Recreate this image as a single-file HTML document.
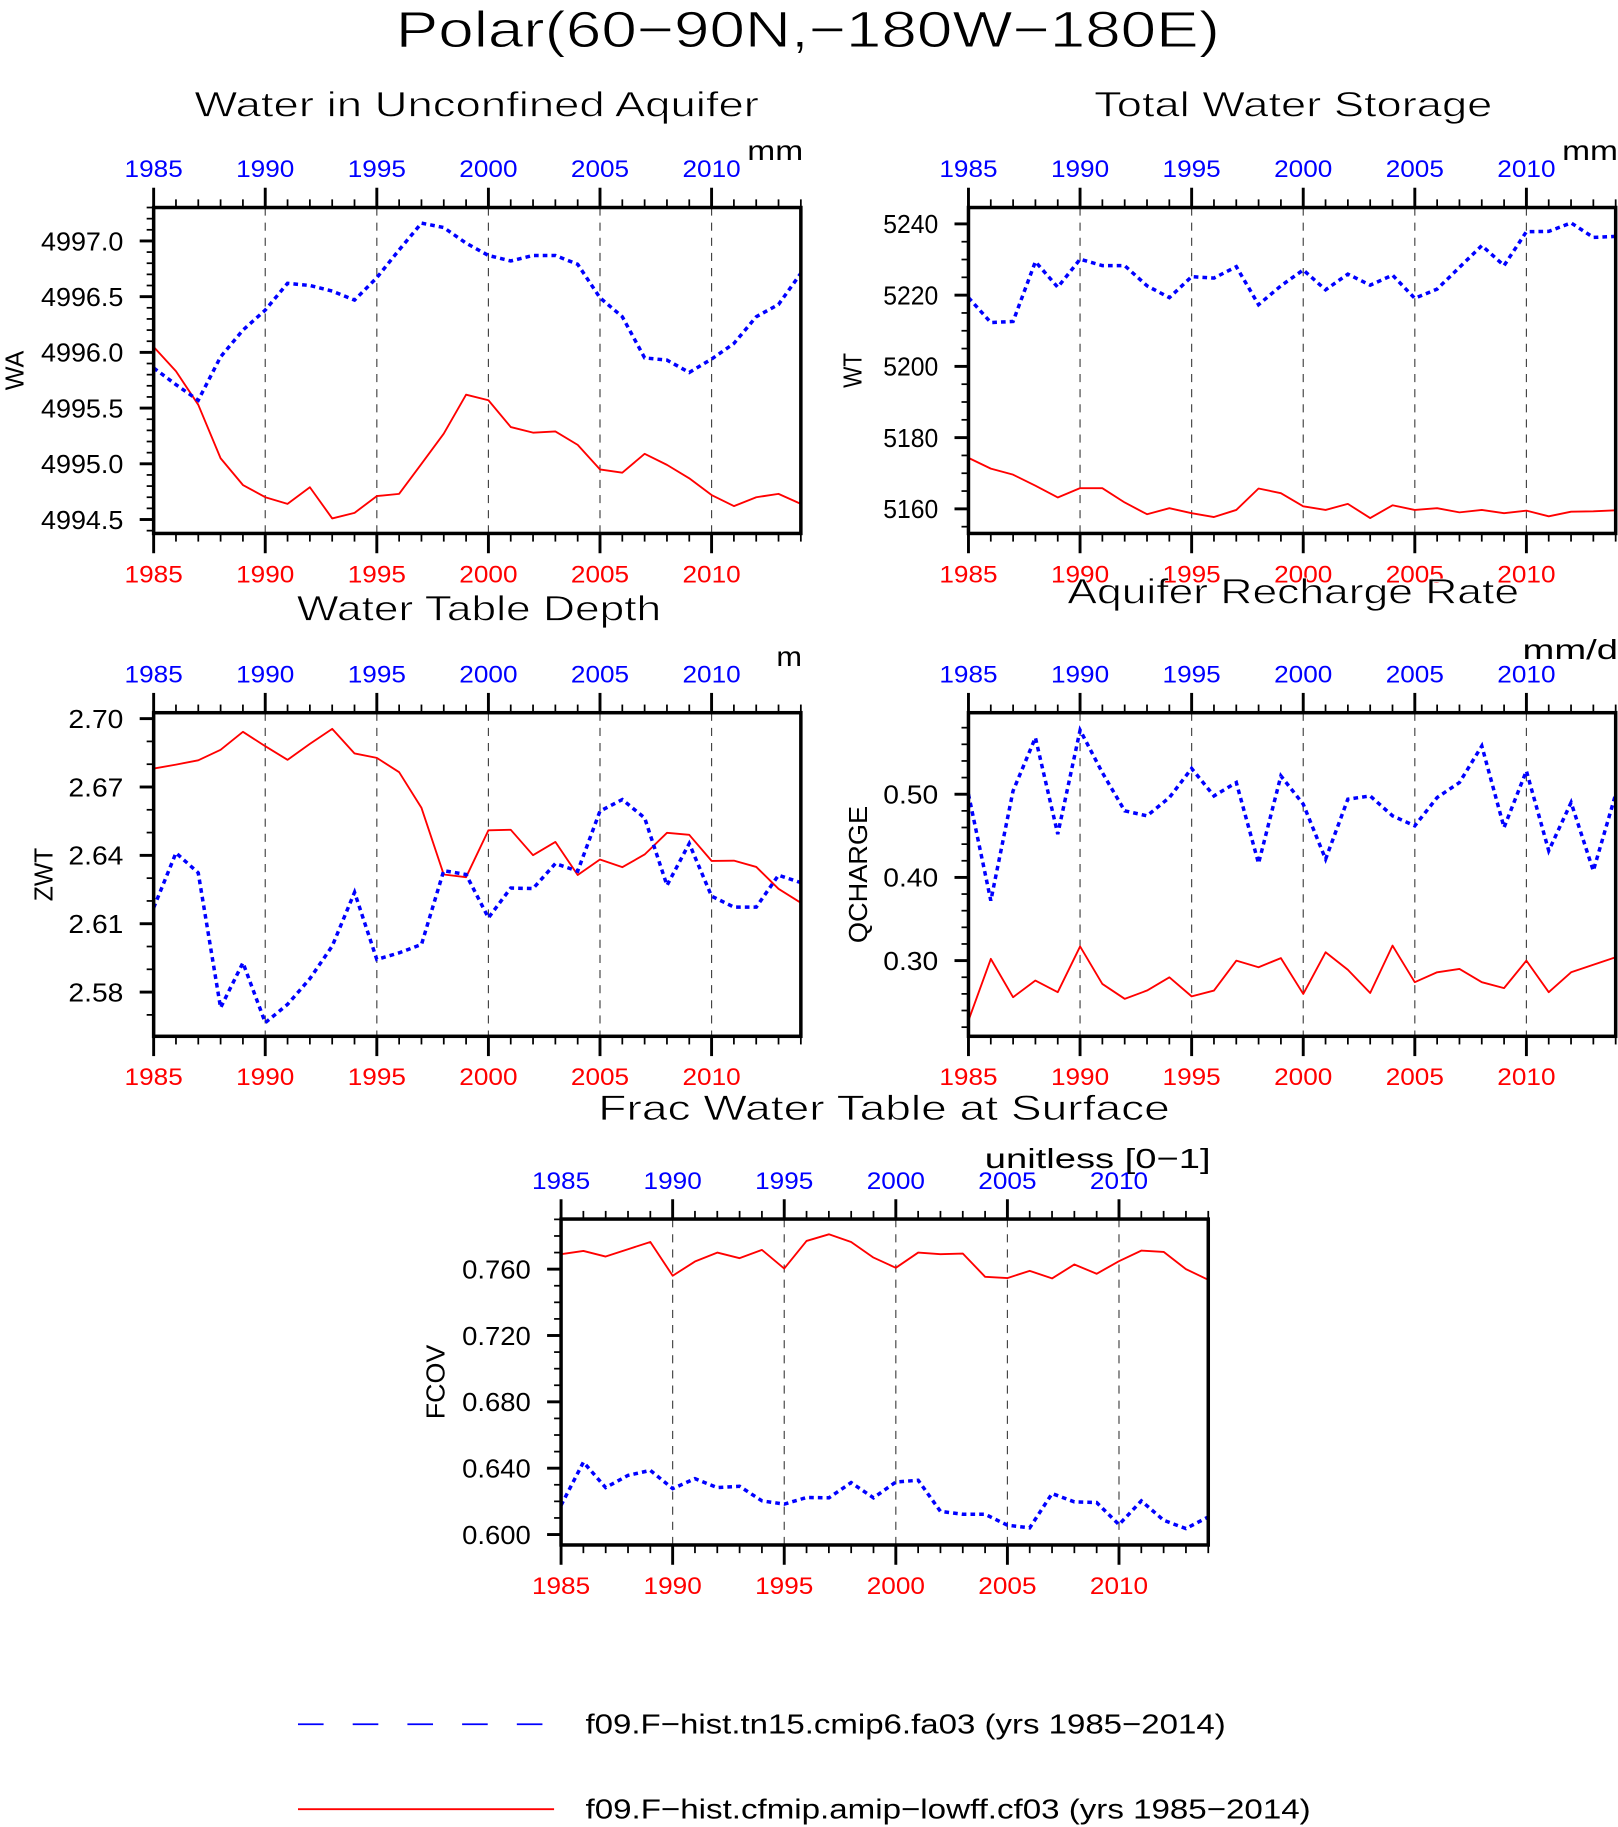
<!DOCTYPE html>
<html><head><meta charset="utf-8"><style>
html,body{margin:0;padding:0;background:#fff;}
svg{display:block;font-family:"Liberation Sans",sans-serif;}
</style></head><body>
<svg id="chart" width="1618" height="1827" viewBox="0 0 1390 1569" xmlns="http://www.w3.org/2000/svg">
<rect width="1390" height="1569" fill="#fff"/>
<text x="340" y="40" font-size="44" textLength="708" lengthAdjust="spacingAndGlyphs" stroke="#fff" stroke-width="0.8">Polar(60−90N,−180W−180E)</text>
<g id="panels"></g>
<g>
<line x1="256" y1="1481" x2="476" y2="1481" stroke="#0000ff" stroke-width="1.6" stroke-dasharray="22 25"/>
<text x="503" y="1489" font-size="24" textLength="550" lengthAdjust="spacingAndGlyphs">f09.F−hist.tn15.cmip6.fa03 (yrs 1985−2014)</text>
<line x1="256" y1="1554" x2="476" y2="1554" stroke="#ff0000" stroke-width="1.6"/>
<text x="503" y="1562" font-size="24" textLength="623" lengthAdjust="spacingAndGlyphs">f09.F−hist.cfmip.amip−lowff.cf03 (yrs 1985−2014)</text>
</g>
</svg>
<script>
const years = [];
for (let y = 1985; y <= 2014; y++) years.push(y);
const xTickYears = [1985,1990,1995,2000,2005,2010];

const waBlue = [4995.86,4995.71,4995.57,4995.96,4996.20,4996.38,4996.62,4996.60,4996.55,4996.47,4996.67,4996.92,4997.16,4997.12,4996.98,4996.87,4996.82,4996.87,4996.87,4996.79,4996.49,4996.32,4995.95,4995.93,4995.82,4995.94,4996.08,4996.32,4996.43,4996.71];
const waRed = [4996.05,4995.83,4995.53,4995.05,4994.81,4994.70,4994.64,4994.79,4994.51,4994.56,4994.71,4994.73,4995.00,4995.27,4995.62,4995.57,4995.33,4995.28,4995.29,4995.17,4994.95,4994.92,4995.09,4994.99,4994.87,4994.72,4994.62,4994.70,4994.73,4994.64];
const waTicks = [4994.5,4995.0,4995.5,4996.0,4996.5,4997.0];
const waTickLabels = ["4994.5","4995.0","4995.5","4996.0","4996.5","4997.0"];

const wtBlue = [5219.3,5212.3,5212.6,5229.4,5222.2,5230.1,5228.3,5228.3,5222.6,5219.3,5225.2,5224.8,5228.0,5217.3,5222.6,5227.1,5221.5,5225.9,5222.8,5225.6,5219.1,5221.7,5227.8,5233.9,5228.3,5237.8,5237.9,5240.3,5236.2,5236.5];
const wtRed = [5174.3,5171.3,5169.6,5166.5,5163.2,5165.8,5165.8,5161.8,5158.5,5160.2,5158.8,5157.7,5159.7,5165.7,5164.4,5160.7,5159.7,5161.4,5157.4,5161.0,5159.7,5160.2,5159.0,5159.7,5158.8,5159.5,5157.9,5159.2,5159.3,5159.6];
const wtTicks = [5160,5180,5200,5220,5240];
const wtTickLabels = ["5160","5180","5200","5220","5240"];

const zwtBlue = [2.6170,2.6411,2.6323,2.5731,2.5929,2.5666,2.5746,2.5859,2.6002,2.6238,2.5943,2.5972,2.6009,2.6333,2.6316,2.6126,2.6257,2.6254,2.6364,2.6331,2.6594,2.6645,2.6564,2.6268,2.6452,2.6221,2.6173,2.6173,2.6313,2.6280];
const zwtRed = [2.6781,2.6798,2.6817,2.6863,2.6942,2.6879,2.6819,2.6889,2.6955,2.6847,2.6828,2.6765,2.6608,2.6316,2.6304,2.6510,2.6512,2.6401,2.6459,2.6314,2.6382,2.6348,2.6404,2.6499,2.6490,2.6376,2.6377,2.6349,2.6253,2.6192];
const zwtTicks = [2.58,2.61,2.64,2.67,2.70];
const zwtTickLabels = ["2.58","2.61","2.64","2.67","2.70"];

const qBlue = [0.500,0.372,0.504,0.568,0.452,0.577,0.526,0.480,0.474,0.496,0.531,0.498,0.514,0.417,0.522,0.488,0.422,0.494,0.498,0.474,0.462,0.496,0.514,0.558,0.460,0.528,0.432,0.490,0.408,0.500];
const qRed = [0.228,0.302,0.256,0.276,0.262,0.317,0.272,0.254,0.264,0.280,0.257,0.264,0.300,0.292,0.303,0.260,0.310,0.289,0.261,0.318,0.274,0.286,0.290,0.274,0.267,0.300,0.262,0.286,0.295,0.304];
const qTicks = [0.30,0.40,0.50];
const qTickLabels = ["0.30","0.40","0.50"];

const fBlue = [0.6176,0.6437,0.6283,0.6357,0.6387,0.6277,0.6337,0.6283,0.6291,0.6203,0.6183,0.6223,0.6221,0.6313,0.6221,0.6317,0.6327,0.6140,0.6122,0.6122,0.6056,0.6040,0.6247,0.6197,0.6193,0.6060,0.6203,0.6086,0.6036,0.6106];
const fRed = [0.7690,0.7710,0.7676,0.7720,0.7764,0.7560,0.7646,0.7700,0.7666,0.7716,0.7604,0.7770,0.7810,0.7764,0.7670,0.7608,0.7700,0.7690,0.7694,0.7554,0.7546,0.7590,0.7544,0.7628,0.7572,0.7648,0.7712,0.7704,0.7600,0.7536];
const fTicks = [0.600,0.640,0.680,0.720,0.760];
const fTickLabels = ["0.600","0.640","0.680","0.720","0.760"];

const NS = "http://www.w3.org/2000/svg";
const root = document.getElementById("panels");
function mk(tag, attrs, parent) {
  const e = document.createElementNS(NS, tag);
  for (const k in attrs) e.setAttribute(k, attrs[k]);
  parent.appendChild(e);
  return e;
}

const panels = [
  {key:"wa", x0:132,x1:688,y0:178,y1:458, ymin:4994.375, ymax:4997.30, minor:0.1, blue:waBlue, red:waRed, ticks:waTicks, labels:waTickLabels,
   title:"Water in Unconfined Aquifer", tx:167, ty:100, tl:485, unit:"mm", ux:642, uy:137, ul:48, ylab:"WA", ylx:20, yll:34},
  {key:"wt", x0:832,x1:1388,y0:178,y1:458, ymin:5153.1, ymax:5244.6, minor:5, blue:wtBlue, red:wtRed, ticks:wtTicks, labels:wtTickLabels,
   title:"Total Water Storage", tx:940, ty:100, tl:342, unit:"mm", ux:1342, uy:137, ul:48, ylab:"WT", ylx:740, yll:30},
  {key:"zwt", x0:132,x1:688,y0:612,y1:890, ymin:2.5606, ymax:2.7026, minor:0.01, blue:zwtBlue, red:zwtRed, ticks:zwtTicks, labels:zwtTickLabels,
   title:"Water Table Depth", tx:255, ty:533, tl:313, unit:"m", ux:667, uy:572, ul:22, ylab:"ZWT", ylx:45, yll:46},
  {key:"qcharge", x0:832,x1:1388,y0:612,y1:890, ymin:0.209, ymax:0.598, minor:0.02, blue:qBlue, red:qRed, ticks:qTicks, labels:qTickLabels,
   title:"Aquifer Recharge Rate", tx:917, ty:518, tl:388, unit:"mm/d", ux:1308, uy:566, ul:82, ylab:"QCHARGE", ylx:745, yll:118},
  {key:"fcov", x0:482,x1:1038,y0:1047,y1:1327, ymin:0.5937, ymax:0.7902, minor:0.01, blue:fBlue, red:fRed, ticks:fTicks, labels:fTickLabels,
   title:"Frac Water Table at Surface", tx:514, ty:962, tl:491, unit:"unitless [0−1]", ux:846, uy:1003, ul:194, ylab:"FCOV", ylx:382, yll:64}
];

panels.forEach(p => {
  const g = mk("g", {}, root);
  
  
  const xs = yr => p.x0 + (yr - 1985) * (p.x1 - p.x0) / 29;
  const ys = v => p.y1 - (v - p.ymin) * (p.y1 - p.y0) / (p.ymax - p.ymin);

  const t = mk("text", {x:p.tx, y:p.ty, "font-size":30, textLength:p.tl, lengthAdjust:"spacingAndGlyphs", stroke:"#fff", "stroke-width":0.6}, g);
  t.textContent = p.title;
  
  

  const u = mk("text", {x:p.ux, y:p.uy, "font-size":24, textLength:p.ul, lengthAdjust:"spacingAndGlyphs"}, g);
  u.textContent = p.unit;
  
  

  const yl = mk("text", {x:0, y:0, "font-size":22, "text-anchor":"middle", textLength:p.yll, lengthAdjust:"spacingAndGlyphs", transform:`translate(${p.ylx},${(p.y0+p.y1)/2}) rotate(-90)`}, g);
  yl.textContent = p.ylab;
  
  

  xTickYears.slice(1).forEach(yr => {
    const l = mk("line", {x1:xs(yr), x2:xs(yr), y1:p.y0, y2:p.y1, stroke:"#444", "stroke-width":1, "stroke-dasharray":"7 6"}, g);
    
    
  });

  years.forEach(yr => {
    const major = xTickYears.includes(yr);
    const len = major ? 17 : 7;
    const w = major ? 2.5 : 1.5;
    const a = mk("line", {x1:xs(yr), x2:xs(yr), y1:p.y0, y2:p.y0-len, stroke:"#000", "stroke-width":w}, g);
    
    
    const b = mk("line", {x1:xs(yr), x2:xs(yr), y1:p.y1, y2:p.y1+len, stroke:"#000", "stroke-width":w}, g);
    
    
  });
  xTickYears.forEach(yr => {
    const tt = mk("text", {x:xs(yr), y:p.y0-26, "font-size":21, "text-anchor":"middle", fill:"#0000ff", textLength:50, lengthAdjust:"spacingAndGlyphs"}, g);
    tt.textContent = String(yr);
    
    
    const tb = mk("text", {x:xs(yr), y:p.y1+42, "font-size":21, "text-anchor":"middle", fill:"#ff0000", textLength:50, lengthAdjust:"spacingAndGlyphs"}, g);
    tb.textContent = String(yr);
    
    
  });

  const start = Math.ceil(p.ymin / p.minor - 1e-6);
  const end = Math.floor(p.ymax / p.minor + 1e-6);
  for (let i = start; i <= end; i++) {
    const v = i * p.minor;
    const m = mk("line", {x1:p.x0, x2:p.x0-6, y1:ys(v), y2:ys(v), stroke:"#000", "stroke-width":1.5}, g);
    
    
  }
  p.ticks.forEach((v, i) => {
    const m = mk("line", {x1:p.x0, x2:p.x0-12, y1:ys(v), y2:ys(v), stroke:"#000", "stroke-width":2.5}, g);
    
    
    const lab = p.labels[i];
    const tl = mk("text", {x:p.x0-26, y:ys(v)+8, "font-size":22, "text-anchor":"end", textLength:lab.length*11.8, lengthAdjust:"spacingAndGlyphs"}, g);
    tl.textContent = lab;
    
    
  });

  const pts = arr => arr.map((v, i) => xs(years[i]).toFixed(1) + "," + ys(v).toFixed(1)).join(" ");
  const rl = mk("polyline", {points:pts(p.red), fill:"none", stroke:"#ff0000", "stroke-width":1.6, "stroke-linejoin":"round"}, g);
  
  
  const bl = mk("polyline", {points:pts(p.blue), fill:"none", stroke:"#0000ff", "stroke-width":3, "stroke-dasharray":"4 3.5"}, g);
  
  

  const fr = mk("rect", {x:p.x0, y:p.y0, width:p.x1-p.x0, height:p.y1-p.y0, fill:"none", stroke:"#000", "stroke-width":3}, g);
  
  
});
</script>
</body></html>
